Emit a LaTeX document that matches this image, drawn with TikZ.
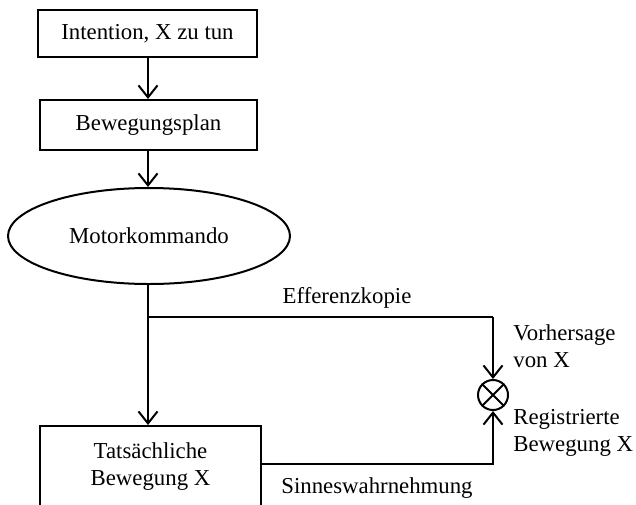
\documentclass[tikz,border=0pt]{standalone}
\usepackage{fontspec}
\setmainfont{Liberation Serif}
\usetikzlibrary{arrows.meta,shapes.geometric}
\begin{document}
\begin{tikzpicture}[x=0.5pt,y=-0.5pt,
  every node/.style={font=\fontsize{11.4}{13.6}\selectfont},
  boxnode/.style={draw,line width=1pt,inner sep=0pt,align=center},
  ellnode/.style={draw,ellipse,line width=1pt,inner sep=0pt},
  sumnode/.style={draw,circle,line width=1pt,inner sep=0pt,minimum size=15pt},
  conn/.style={line width=1pt},
  arr/.style={conn,-{Straight Barb[length=6pt,width=9.5pt,line width=1pt]}},
  lbl/.style={inner sep=0pt,align=left}]
\useasboundingbox (0,0) rectangle (636,504);
\clip (0,0) rectangle (636,504);
\node[boxnode,minimum width=109.5pt,minimum height=23.5pt] (intent) at (147.5,33.5) {Intention, X zu tun};
\node[boxnode,minimum width=108.5pt,minimum height=25pt] (plan) at (148.5,125) {Bewegungsplan};
\node[ellnode,minimum width=141pt,minimum height=48pt] (motor) at (149,236) {Motorkommando};
\node[boxnode,minimum width=110.5pt,minimum height=40.5pt] (actual) at (150.5,466.5) {Tatsächliche\\Bewegung X};
\node[sumnode] (sum) at (493,395) {};
\draw[conn] (sum.north east) -- (sum.south west) (sum.north west) -- (sum.south east);
\coordinate (j) at (148,317);
\coordinate (jr) at (493,317);
\coordinate (br) at (493,464);
\draw[arr] (intent.south -| 148,0) -- (plan.north -| 148,0);
\draw[arr] (plan.south -| 148,0) -- (motor.north -| 148,0);
\draw[arr] (motor.south -| 148,0) -- (actual.north -| 148,0);
\draw[conn] (j) -- (jr);
\draw[arr] (jr) -- (sum.north);
\draw[arr] (actual.east |- br) -- (br) -- (sum.south);
\node[lbl] (eff) at (347,298) {Efferenzkopie};
\node[lbl] (sinn) at (377,488) {Sinneswahrnehmung};
\node[lbl,anchor=west] (vor) at (513,346) {Vorhersage\\von X};
\node[lbl,anchor=west] (reg) at (513,433) {Registrierte\\Bewegung X};
\end{tikzpicture}
\end{document}
